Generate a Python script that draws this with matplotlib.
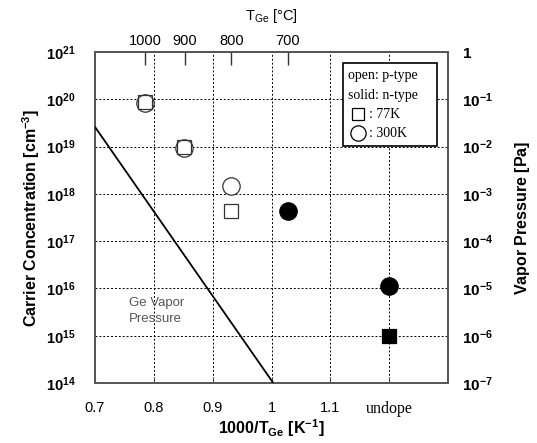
import numpy as np
import matplotlib
matplotlib.use("Agg")
import matplotlib.pyplot as plt
from matplotlib.ticker import FixedLocator, NullLocator
from matplotlib.patches import Rectangle

plt.rcParams['font.family'] = ['Liberation Sans', 'DejaVu Sans']
plt.rcParams['mathtext.fontset'] = 'custom'
plt.rcParams['mathtext.rm'] = 'Liberation Sans'
plt.rcParams['mathtext.it'] = 'Liberation Sans:italic'
plt.rcParams['mathtext.bf'] = 'Liberation Sans:bold'

# ---- data ----
x_ticks = [0.7, 0.8, 0.9, 1.0, 1.1, 1.2]
x_ticklabels = ['0.7', '0.8', '0.9', '1', '1.1', 'undope']
temps_C = [1000, 900, 800, 700]

# p-type (open markers)
p300_x = [0.785, 0.852, 0.932]
p300_y = [8.3e19, 9.5e18, 1.5e18]
p77_x = [0.785, 0.852, 0.931]
p77_y = [8.9e19, 9.9e18, 4.4e17]
# n-type (solid markers)
n300_x = [1.028, 1.2]
n300_y = [4.4e17, 1.1e16]
n77_x = [1.2]
n77_y = [1.0e15]

# Ge vapor pressure line [Pa]
vp_x = [0.7, 1.003]
vp_y = [2.6e-2, 1e-7]

left_decades = list(range(14, 22))
right_decades = list(range(-7, 1))

# ---- figure ----
fig = plt.figure(figsize=(5.37, 4.43), dpi=100)
ax = fig.add_axes([95/537, 1-383/443, 353/537, 331/443])
ax.set_xlim(0.7, 1.3)
ax.set_yscale('log')
ax.set_ylim(1e14, 1e21)

ax.set_xticks(x_ticks)
ax.set_xticklabels(x_ticklabels, fontsize=10.5)
for lbl in ax.get_xticklabels():
    if lbl.get_text() == 'undope':
        lbl.set_family('Liberation Serif')
        lbl.set_fontsize(11.5)
ax.yaxis.set_major_locator(FixedLocator([10.0**d for d in left_decades]))
ax.yaxis.set_minor_locator(NullLocator())
ax.set_yticklabels([r'$\mathbf{10^{%d}}$' % d for d in left_decades], fontsize=10.5)

ax.grid(True, which='major', color='black', linestyle=(0, (2, 2)), linewidth=0.7)
ax.tick_params(axis='x', direction='in', length=4, pad=13, color='#444444')
ax.tick_params(axis='y', direction='in', length=0, pad=14)
for s in ax.spines.values():
    s.set_color('#555555')
    s.set_linewidth(1.4)

ms_c = 12.5
ms_s = 10.5
ax.plot(p300_x, p300_y, 'o', ms=ms_c, mfc='white', mec='#333333', mew=0.9, zorder=4)
ax.plot(p77_x, p77_y, 's', ms=ms_s, mfc='none', mec='#333333', mew=0.9, zorder=5)
ax.plot(n300_x, n300_y, 'o', ms=ms_c, mfc='black', mec='black', mew=0.9, zorder=4)
ax.plot(n77_x, n77_y, 's', ms=ms_s, mfc='black', mec='black', mew=0.9, zorder=4)

ax.set_xlabel(r'$\mathbf{1000/T_{Ge}\ [K^{-1}]}$', fontsize=11.5, labelpad=0)
ax.set_ylabel(r'$\mathbf{Carrier\ Concentration\ [cm^{-3}]}$', fontsize=11.5, labelpad=3)

ax.text(0.757, 3.3e15, 'Ge Vapor\nPressure', fontsize=9.5, color='#555555',
        ha='left', va='center', linespacing=1.45)

# right axis: vapor pressure
ax2 = ax.twinx()
ax2.set_yscale('log')
ax2.set_ylim(1e-7, 1)
ax2.yaxis.set_major_locator(FixedLocator([10.0**d for d in right_decades]))
ax2.yaxis.set_minor_locator(NullLocator())
ax2.set_yticklabels([r'$\mathbf{1}$' if d == 0 else r'$\mathbf{10^{%d}}$' % d for d in right_decades],
                    fontsize=11)
ax2.tick_params(axis='y', direction='in', length=0, pad=10)
ax2.set_ylabel(r'$\mathbf{Vapor\ Pressure\ [Pa]}$', fontsize=11.5, labelpad=14)
for s in ax2.spines.values():
    s.set_visible(False)
ax2.plot(vp_x, vp_y, color='black', lw=1.3, solid_capstyle='butt', clip_on=True)

# top axis: temperature
top = ax.secondary_xaxis('top')
top.set_xticks([1000.0/(t + 273.15) for t in temps_C])
top.set_xticklabels([str(t) for t in temps_C], fontsize=10.5)
top.tick_params(direction='in', length=9, width=1.0, color='#333333', pad=3)
top.spines['top'].set_visible(False)
top.set_xlabel(r'T$_{\mathrm{Ge}}$ [°C]', fontsize=10.5, labelpad=10)

# legend box
ax.add_patch(Rectangle((0.703, 0.716), 0.265, 0.252, transform=ax.transAxes,
                       facecolor='white', edgecolor='black', lw=1.2, zorder=6))
serif = 'Liberation Serif'
ax.text(0.717, 0.929, 'open: p-type', transform=ax.transAxes, family=serif,
        fontsize=10, va='center', zorder=7)
ax.text(0.717, 0.870, 'solid: n-type', transform=ax.transAxes, family=serif,
        fontsize=10, va='center', zorder=7)
ax.plot([0.745], [0.812], 's', ms=9, mfc='white', mec='black', mew=0.9,
        transform=ax.transAxes, zorder=7, clip_on=False)
ax.plot([0.745], [0.754], 'o', ms=11, mfc='white', mec='black', mew=0.9,
        transform=ax.transAxes, zorder=7, clip_on=False)
ax.text(0.775, 0.812, ': 77K', transform=ax.transAxes, family=serif,
        fontsize=10, va='center', zorder=7)
ax.text(0.775, 0.754, ': 300K', transform=ax.transAxes, family=serif,
        fontsize=10, va='center', zorder=7)

fig.savefig('out.png', dpi=100)
